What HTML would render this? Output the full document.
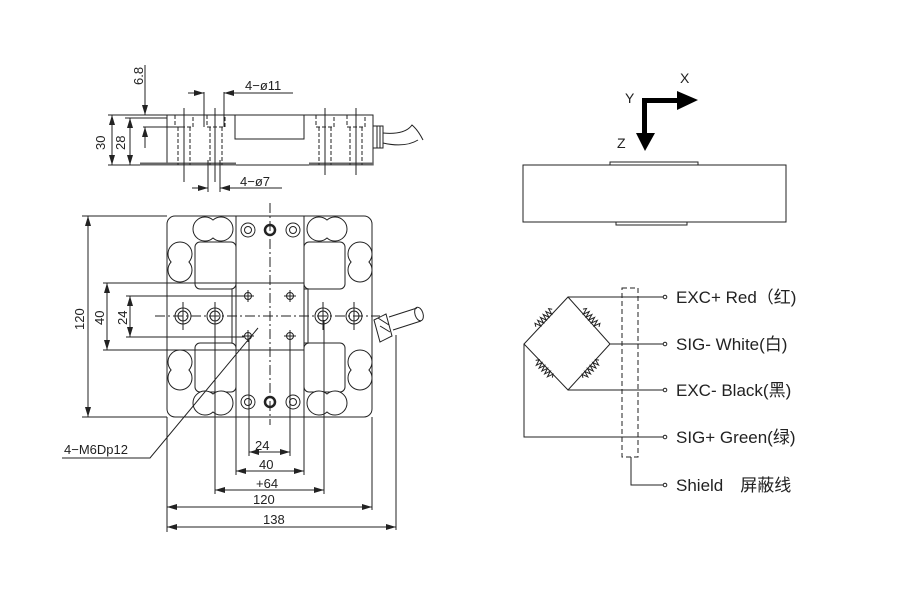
<!DOCTYPE html>
<html><head><meta charset="utf-8"><style>
body{margin:0;background:#fff;}
svg{display:block;}
text{font-family:"Liberation Sans","Noto Sans CJK SC",sans-serif;fill:#222;}
</style></head><body>
<svg width="900" height="590" viewBox="0 0 900 590" xmlns="http://www.w3.org/2000/svg">
<defs>
<marker id="a" viewBox="0 0 10 6" refX="10" refY="3" markerWidth="10" markerHeight="6" orient="auto-start-reverse" markerUnits="userSpaceOnUse"><path d="M0,0 L10,3 L0,6z" fill="#222"/></marker>
<path id="lh" d="M0,-8.94 A12,12 0 1 0 0,8.94 A12,12 0 1 0 0,-8.94z"/>
<path id="lv" d="M-8.94,0 A12,12 0 1 1 8.94,0 A12,12 0 1 1 -8.94,0z"/>
<path id="zz" d="M-12,0 l2,-3 l2,6 l2,-6 l2,6 l2,-6 l2,6 l2,-6 l2,6 l2,-6 l2,6 l2,-6 l2,3"/>
</defs>
<g stroke="#222" stroke-width="1" fill="none">
<!-- side view -->
<rect x="167" y="115" width="206" height="50"/>
<line x1="108" y1="115" x2="167" y2="115"/>
<line x1="108" y1="165" x2="167" y2="165"/>
<line x1="125" y1="118" x2="167" y2="118"/>
<line x1="112" y1="115" x2="112" y2="165" marker-start="url(#a)" marker-end="url(#a)"/>
<line x1="130" y1="118" x2="130" y2="165" marker-start="url(#a)" marker-end="url(#a)"/>
<line x1="145" y1="65" x2="145" y2="115" marker-end="url(#a)"/>
<line x1="145" y1="148" x2="145" y2="127" marker-end="url(#a)"/>
<line x1="143" y1="127" x2="183" y2="127"/>
<rect x="235" y="115" width="69" height="24"/>
<g stroke-width="3" stroke="#666"><line x1="140" y1="164" x2="236" y2="164"/><line x1="309" y1="164" x2="373" y2="164"/></g>
<g stroke-dasharray="4,2">
<path d="M175,115 V127 H193 V115 M178,127 V165 M190,127 V165"/>
<path d="M207,115 V127 H225 V115 M210,127 V165 M222,127 V165"/>
<path d="M316,115 V127 H334 V115 M319,127 V165 M331,127 V165"/>
<path d="M347,115 V127 H365 V115 M350,127 V165 M362,127 V165"/>
</g>
<line x1="184" y1="108" x2="184" y2="182"/><line x1="215" y1="108" x2="215" y2="182"/>
<line x1="325" y1="108" x2="325" y2="175"/><line x1="356" y1="108" x2="356" y2="175"/>
<line x1="204" y1="92" x2="204" y2="127"/><line x1="224" y1="92" x2="224" y2="127"/>
<line x1="188" y1="93" x2="204" y2="93" marker-end="url(#a)"/>
<line x1="240" y1="93" x2="224" y2="93" marker-end="url(#a)"/>
<line x1="224" y1="93" x2="293" y2="93"/>
<line x1="208" y1="160" x2="208" y2="192"/><line x1="220" y1="160" x2="220" y2="192"/>
<line x1="192" y1="188" x2="208" y2="188" marker-end="url(#a)"/>
<line x1="236" y1="188" x2="220" y2="188" marker-end="url(#a)"/>
<line x1="220" y1="188" x2="282" y2="188"/>
<rect x="373" y="126" width="10" height="22"/>
<path d="M377,126 V148 M380,126 V148"/>
<path d="M383,133 Q405,135 412,125 Q418,130 423,140 M383,143 Q405,148 418,140"/>
<!-- top view -->
<rect x="167" y="216" width="205" height="201" rx="8"/>
<rect x="236" y="216" width="68" height="201"/>
<rect x="236" y="283" width="68" height="67"/>
<rect x="195" y="242" width="41" height="47" rx="5"/>
<rect x="304" y="242" width="41" height="47" rx="5"/>
<rect x="195" y="343" width="41" height="49" rx="5"/>
<rect x="304" y="343" width="41" height="49" rx="5"/>
<line x1="304" y1="289" x2="308" y2="289"/><line x1="308" y1="289" x2="308" y2="343"/><line x1="304" y1="343" x2="308" y2="343"/>
<line x1="232" y1="289" x2="232" y2="343"/>
<!-- lobes -->
<g fill="#fff">
<use href="#lh" x="213" y="229"/><use href="#lh" x="327" y="229"/>
<use href="#lh" x="213" y="403"/><use href="#lh" x="327" y="403"/>
<use href="#lv" x="180" y="262"/><use href="#lv" x="360" y="262"/>
<use href="#lv" x="180" y="370"/><use href="#lv" x="360" y="370"/>
</g>
<!-- holes -->
<circle cx="248" cy="230" r="7"/><circle cx="248" cy="230" r="3.5"/>
<circle cx="293" cy="230" r="7"/><circle cx="293" cy="230" r="3.5"/>
<circle cx="270" cy="230" r="5" stroke-width="2.5"/>
<circle cx="248" cy="402" r="7"/><circle cx="248" cy="402" r="3.5"/>
<circle cx="293" cy="402" r="7"/><circle cx="293" cy="402" r="3.5"/>
<circle cx="270" cy="402" r="5" stroke-width="2.5"/>
<g><circle cx="183" cy="316" r="8"/><circle cx="183" cy="316" r="5"/><circle cx="215" cy="316" r="8"/><circle cx="215" cy="316" r="5"/>
<circle cx="323" cy="316" r="8"/><circle cx="323" cy="316" r="5"/><circle cx="354" cy="316" r="8"/><circle cx="354" cy="316" r="5"/></g>
<path d="M183,302 V330 M215,302 V330 M323,302 V330 M354,302 V330"/>
<g><circle cx="248" cy="296" r="3.5"/><circle cx="290" cy="296" r="3.5"/><circle cx="248" cy="336" r="3.5"/><circle cx="290" cy="336" r="3.5"/>
<path d="M242,296 H254 M248,290 V302 M284,296 H296 M290,290 V302 M242,336 H254 M248,330 V342 M284,336 H296 M290,330 V342"/></g>
<line x1="155" y1="316" x2="380" y2="316" stroke-dasharray="10,3,2,3"/>
<line x1="270" y1="203" x2="270" y2="425" stroke-dasharray="10,3,2,3"/>
<!-- cable -->
<path d="M374,320 L386,314 L392,336 L380,342z"/><path d="M378,318 L389,325 M380,326 L390,332"/>
<path d="M389,317 L417,308 M393,330 L421,321"/><ellipse cx="419" cy="314" rx="4" ry="7" transform="rotate(-18 419 314)"/>
<line x1="396" y1="335" x2="396" y2="530"/>
<line x1="372" y1="417" x2="372" y2="510"/>
<!-- dimension lines -->
<line x1="82" y1="216" x2="167" y2="216"/><line x1="82" y1="417" x2="167" y2="417"/>
<line x1="88" y1="216" x2="88" y2="417" marker-start="url(#a)" marker-end="url(#a)"/>
<line x1="103" y1="283" x2="236" y2="283"/><line x1="103" y1="350" x2="236" y2="350"/>
<line x1="107" y1="283" x2="107" y2="350" marker-start="url(#a)" marker-end="url(#a)"/>
<line x1="126" y1="296" x2="244" y2="296"/><line x1="126" y1="337" x2="244" y2="337"/>
<line x1="130" y1="296" x2="130" y2="337" marker-start="url(#a)" marker-end="url(#a)"/>
<line x1="249" y1="340" x2="249" y2="456"/><line x1="290" y1="340" x2="290" y2="456"/>
<line x1="249" y1="452" x2="290" y2="452" marker-start="url(#a)" marker-end="url(#a)"/>
<line x1="236" y1="417" x2="236" y2="475"/><line x1="304" y1="417" x2="304" y2="475"/>
<line x1="236" y1="471" x2="304" y2="471" marker-start="url(#a)" marker-end="url(#a)"/>
<line x1="215" y1="320" x2="215" y2="494"/><line x1="324" y1="320" x2="324" y2="494"/>
<line x1="215" y1="490" x2="324" y2="490" marker-start="url(#a)" marker-end="url(#a)"/>
<line x1="167" y1="417" x2="167" y2="532"/>
<line x1="167" y1="507" x2="372" y2="507" marker-start="url(#a)" marker-end="url(#a)"/>
<line x1="167" y1="527" x2="396" y2="527" marker-start="url(#a)" marker-end="url(#a)"/>
<path d="M62,458 H150 L258,328"/>
<!-- right side block -->
<rect x="523" y="165" width="263" height="57"/>
<path d="M610,165 V162 H698 V165 M616,222 V225 H687 V222"/>
<!-- wiring -->
<path d="M568,297 H665 M610,344 H665 M568,390 H665 M524,344 V437 H665"/>
<path d="M568,297 L524,344 L568,390 L610,344 Z"/>
<path d="M631,457 V485 H665"/>
<rect x="622" y="288" width="16" height="169" stroke-dasharray="5,3"/>
</g>
<g stroke="#222" stroke-width="1" fill="#fff">
<use href="#zz" transform="translate(544,318) rotate(-47)"/>
<use href="#zz" transform="translate(591,318) rotate(48)"/>
<use href="#zz" transform="translate(544,369) rotate(46)"/>
<use href="#zz" transform="translate(591,369) rotate(-48)"/>
<circle cx="665" cy="297" r="1.8"/><circle cx="665" cy="344" r="1.8"/><circle cx="665" cy="390" r="1.8"/><circle cx="665" cy="437" r="1.8"/><circle cx="665" cy="485" r="1.8"/>
</g>
<!-- axes -->
<path d="M642,98 H678 V103 H647 V134 H642z" fill="#000"/>
<path d="M677,91 L698,100 L677,110z M636,133 L655,133 L645,151z" fill="#000"/>
<g font-size="14" stroke="none">
<text x="625" y="103">Y</text><text x="680" y="83">X</text><text x="617" y="148">Z</text>
</g>
<g font-size="13">
<text x="245" y="90">4−ø11</text>
<text x="240" y="186">4−ø7</text>
<text x="255" y="450">24</text>
<text x="259" y="469">40</text>
<text x="256" y="488">+64</text>
<text x="253" y="504">120</text>
<text x="263" y="524">138</text>
<text x="64" y="454">4−M6Dp12</text>
<text transform="translate(105,150) rotate(-90)">30</text>
<text transform="translate(125,150) rotate(-90)">28</text>
<text transform="translate(143,85) rotate(-90)">6.8</text>
<text transform="translate(84,330) rotate(-90)">120</text>
<text transform="translate(104,325) rotate(-90)">40</text>
<text transform="translate(127,325) rotate(-90)">24</text>
</g>
<g font-size="17">
<text x="676" y="303">EXC+ Red（红)</text>
<text x="676" y="350">SIG- White(白)</text>
<text x="676" y="396">EXC- Black(黑)</text>
<text x="676" y="443">SIG+ Green(绿)</text>
<text x="676" y="491">Shield　屏蔽线</text>
</g>
</svg>
</body></html>
